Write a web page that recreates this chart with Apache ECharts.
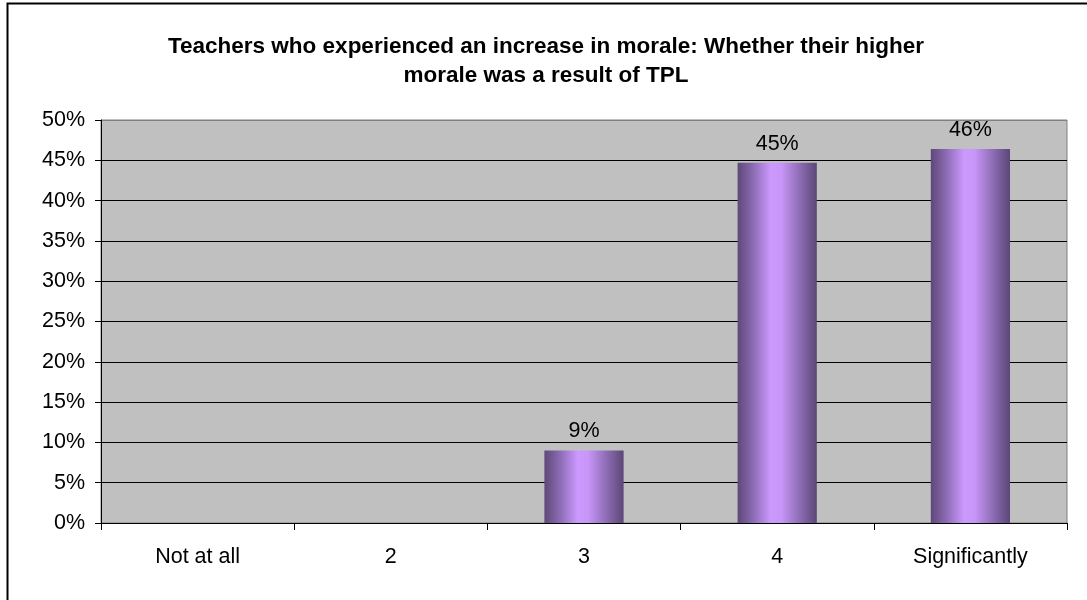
<!DOCTYPE html>
<html>
<head>
<meta charset="utf-8">
<script src="https://cdn.jsdelivr.net/npm/echarts@6/dist/echarts.min.js"></script>
<style>
html,body{margin:0;padding:0;background:#fff;}
#chart{width:1087px;height:600px;}
</style>
</head>
<body>
<div id="chart"></div>
<script>
const titleText = 'Teachers who experienced an increase in morale: Whether their higher\nmorale was a result of TPL';
const categories = ['Not at all', '2', '3', '4', 'Significantly'];
const values = [0, 0, 9.0, 44.7, 46.4];
const yMin = 0, yMax = 50, yStep = 5;

const chart = echarts.init(document.getElementById('chart'), null, {renderer: 'canvas'});
const font = 'Liberation Sans, Arial, sans-serif';
const splitColors = [];
for (let v = yMin; v <= yMax; v += yStep) splitColors.push(v === yMax ? '#808080' : '#000000');

chart.setOption({
  animation: false,
  backgroundColor: '#ffffff',
  graphic: [{
    type: 'rect',
    shape: {x: 7.5, y: 3.5, width: 1200, height: 800},
    style: {fill: 'none', stroke: '#000', lineWidth: 2},
    silent: true, z: -1
  }],
  title: {
    text: titleText,
    left: 541, top: 27, textAlign: 'center',
    textStyle: {fontFamily: font, fontSize: 22.5, fontWeight: 'bold', color: '#000', lineHeight: 29}
  },
  grid: {
    left: 101, right: 20, top: 120, bottom: 77,
    show: true, backgroundColor: '#C0C0C0', borderColor: '#808080', borderWidth: 1
  },
  xAxis: {
    type: 'category',
    data: categories,
    axisLine: {lineStyle: {color: '#000', width: 1}},
    axisTick: {show: true, length: 7, lineStyle: {color: '#000'}},
    axisLabel: {fontFamily: font, fontSize: 21.5, color: '#000', margin: 23},
    splitLine: {show: false}
  },
  yAxis: {
    type: 'value',
    min: yMin, max: yMax, interval: yStep,
    axisLine: {show: true, lineStyle: {color: '#000', width: 1}},
    axisTick: {show: true, length: 6, lineStyle: {color: '#000'}},
    axisLabel: {fontFamily: font, fontSize: 21.5, color: '#000', margin: 16, formatter: '{value}%'},
    splitLine: {show: true, lineStyle: {color: splitColors, width: 1}}
  },
  series: [{
    type: 'bar',
    data: values,
    barWidth: '41%',
    itemStyle: {
      color: new echarts.graphic.LinearGradient(0, 0, 1, 0, [
        {offset: 0, color: '#5e4878'},
        {offset: 0.2, color: '#8c6cb4'},
        {offset: 0.42, color: '#cc99ff'},
        {offset: 0.55, color: '#c896f8'},
        {offset: 0.8, color: '#8a6ab0'},
        {offset: 1, color: '#5c4676'}
      ])
    },
    label: {
      show: true, position: 'top', distance: 8,
      fontFamily: font, fontSize: 21.5, color: '#000',
      formatter: p => p.value ? Math.round(p.value) + '%' : ''
    }
  }]
});
</script>
</body>
</html>
